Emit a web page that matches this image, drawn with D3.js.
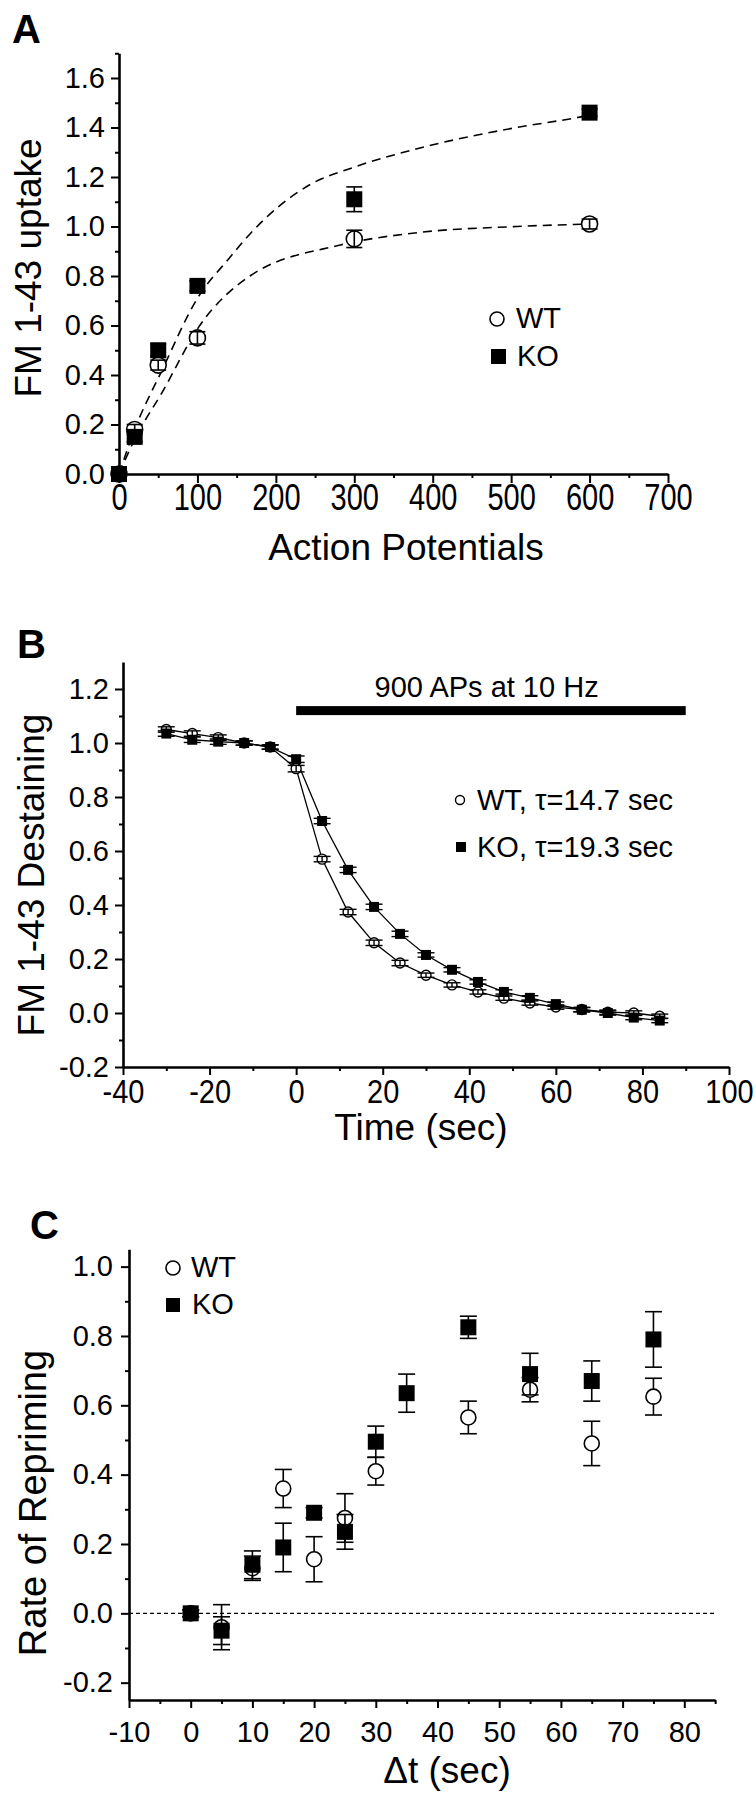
<!DOCTYPE html>
<html>
<head>
<meta charset="utf-8">
<script src="https://cdn.jsdelivr.net/npm/d3@7"></script>
<style>
  body { margin: 0; background: #fff; }
  svg { display: block; }
  text { font-family: "Liberation Sans", Arial, sans-serif; fill: #000; }
</style>
</head>
<body>
<svg id="fig" width="756" height="1800"></svg>
<script>
// ---- panel A : uptake vs number of action potentials ----
const apCounts = [0, 20, 50, 100, 300, 600];
const uptakeWT = [0, 0.18, 0.44, 0.55, 0.95, 1.01];
const uptakeWTErr = [0.01, 0.02, 0.02, 0.025, 0.035, 0.02];
const uptakeKO = [0, 0.15, 0.50, 0.76, 1.11, 1.46];
const uptakeKOErr = [0.01, 0.02, 0.025, 0.02, 0.05, 0.015];
// dashed fit curves
const fitKOx = [0, 20, 55, 100, 140, 167, 244, 300, 375, 507, 584, 600];
const fitKOy = [0, 0.18, 0.42, 0.71, 0.87, 0.97, 1.17, 1.24, 1.31, 1.40, 1.44, 1.45];
const fitWTx = [0, 20, 55, 103, 167, 282, 380, 507, 600];
const fitWTy = [0, 0.14, 0.33, 0.60, 0.80, 0.925, 0.975, 1.0, 1.01];
const apTicks = [0, 100, 200, 300, 400, 500, 600, 700];
const apMinor = [50, 150, 250, 350, 450, 550, 650];
const uptakeTicks = [0, 0.2, 0.4, 0.6, 0.8, 1.0, 1.2, 1.4, 1.6];

// ---- panel B : destaining time course ----
const timeSec = [-30, -24, -18, -12, -6, 0, 6, 12, 18, 24, 30, 36, 42, 48, 54, 60, 66, 72, 78, 84];
const destainWT = [1.05, 1.035, 1.02, 1.0, 0.985, 0.905, 0.57, 0.374, 0.26, 0.185, 0.14, 0.104, 0.078, 0.055, 0.037, 0.022, 0.013, 0.003, 0.0, -0.012];
const destainWTErr = [0.01, 0.01, 0.01, 0.008, 0.008, 0.012, 0.01, 0.01, 0.01, 0.01, 0.008, 0.008, 0.008, 0.008, 0.008, 0.008, 0.008, 0.008, 0.008, 0.008];
const destainKO = [1.035, 1.012, 1.005, 1.0, 0.985, 0.94, 0.711, 0.53, 0.393, 0.293, 0.215, 0.16, 0.115, 0.078, 0.056, 0.033, 0.012, 0.0, -0.017, -0.028];
const destainKOErr = [0.01, 0.01, 0.01, 0.008, 0.008, 0.012, 0.01, 0.01, 0.01, 0.01, 0.008, 0.008, 0.008, 0.008, 0.008, 0.008, 0.008, 0.008, 0.008, 0.008];
const stimWindow = [0, 90];
const stimLevel = 1.12;
const timeTicks = [-40, -20, 0, 20, 40, 60, 80, 100];
const timeMinor = [-30, -10, 10, 30, 50, 70, 90];
const destainTicks = [-0.2, 0, 0.2, 0.4, 0.6, 0.8, 1.0, 1.2];

// ---- panel C : repriming rate ----
const dtWT = [0, 5, 10, 15, 20, 25, 30, 45, 55, 65, 75];
const reprimeWT = [0, -0.04, 0.13, 0.36, 0.156, 0.275, 0.41, 0.565, 0.645, 0.49, 0.625];
const reprimeWTErr = [0.01, 0.065, 0.035, 0.055, 0.065, 0.07, 0.04, 0.047, 0.035, 0.064, 0.053];
const dtKO = [0, 5, 10, 15, 20, 25, 30, 35, 45, 55, 65, 75];
const reprimeKO = [0, -0.05, 0.14, 0.19, 0.29, 0.235, 0.495, 0.635, 0.825, 0.69, 0.67, 0.79];
const reprimeKOErr = [0.01, 0.04, 0.04, 0.07, 0.015, 0.05, 0.045, 0.055, 0.032, 0.06, 0.058, 0.08];
const dtTicks = [-10, 0, 10, 20, 30, 40, 50, 60, 70, 80];
const dtMinor = [-5, 5, 15, 25, 35, 45, 55, 65, 75, 85];
const reprimeTicks = [-0.2, 0, 0.2, 0.4, 0.6, 0.8, 1.0];

const svg = d3.select("#fig");
const tickFont = 29;
const titleFont = 37;

function minorVals(major) {
  const out = [];
  for (let i = 0; i < major.length - 1; i++) out.push(+((major[i] + major[i + 1]) / 2).toFixed(2));
  return out;
}

function drawAxes(x, y, o) {
  const y0 = y.range()[0], x0 = x.range()[0];
  const gx = svg.append("g").attr("transform", "translate(0," + y0 + ")");
  gx.call(d3.axisBottom(x).tickValues(o.xMinor).tickSize(4).tickSizeOuter(0).tickFormat(""));
  gx.select(".domain").remove();
  const gx2 = svg.append("g").attr("transform", "translate(0," + y0 + ")")
    .call(d3.axisBottom(x).tickValues(o.xTicks).tickSize(o.xTick).tickSizeOuter(0)
      .tickFormat(d => String(d)));
  gx2.attr("font-size", tickFont).attr("font-family", null);
  // x tick labels in the original are a little taller than normal type
  gx2.selectAll(".tick text")
    .attr("y", o.xLabelTop / o.xStretch)
    .attr("transform", "scale(1," + o.xStretch + ")");

  const gy = svg.append("g").attr("transform", "translate(" + x0 + ",0)");
  gy.call(d3.axisLeft(y).tickValues(o.yMinor).tickSize(4).tickSizeOuter(0).tickFormat(""));
  gy.select(".domain").remove();
  const gy2 = svg.append("g").attr("transform", "translate(" + x0 + ",0)")
    .call(d3.axisLeft(y).tickValues(o.yTicks).tickSize(8).tickSizeOuter(0)
      .tickPadding(o.yPad).tickFormat(d => d.toFixed(1)));
  gy2.attr("font-size", tickFont).attr("font-family", null);

  svg.selectAll(".domain").attr("stroke-width", 2.6);
  svg.selectAll(".tick line").attr("stroke-width", 2);
}

function errBars(xs, ys, es, x, y, capW, sw) {
  const g = svg.append("g").attr("stroke", "#000").attr("stroke-width", sw);
  xs.forEach((v, i) => {
    const cx = x(v), lo = y(ys[i] - es[i]), hi = y(ys[i] + es[i]);
    g.append("line").attr("x1", cx).attr("x2", cx).attr("y1", lo).attr("y2", hi);
    g.append("line").attr("x1", cx - capW / 2).attr("x2", cx + capW / 2).attr("y1", lo).attr("y2", lo);
    g.append("line").attr("x1", cx - capW / 2).attr("x2", cx + capW / 2).attr("y1", hi).attr("y2", hi);
  });
}

function circles(xs, ys, x, y, r, sw) {
  svg.append("g").selectAll("circle").data(xs).join("circle")
    .attr("cx", d => x(d)).attr("cy", (d, i) => y(ys[i])).attr("r", r)
    .attr("fill", "#fff").attr("stroke", "#000").attr("stroke-width", sw);
}

function squares(xs, ys, x, y, s) {
  svg.append("g").selectAll("rect").data(xs).join("rect")
    .attr("x", d => x(d) - s / 2).attr("y", (d, i) => y(ys[i]) - s / 2)
    .attr("width", s).attr("height", s).attr("fill", "#000");
}

function label(txt, x, y, size, opts) {
  const t = svg.append("text").attr("x", x).attr("y", y).attr("font-size", size).text(txt);
  if (opts && opts.anchor) t.attr("text-anchor", opts.anchor);
  if (opts && opts.bold) t.attr("font-weight", "bold");
  if (opts && opts.rotate) t.attr("transform", "rotate(-90," + x + "," + y + ")");
  return t;
}

// ================= A =================
const xA = d3.scaleLinear().domain([0, 700]).range([119, 668]);
const yA = d3.scaleLinear().domain([0, 1.7]).range([474, 474 - 1.7 * 247.5]);
drawAxes(xA, yA, { xTicks: apTicks, xMinor: apMinor, yTicks: uptakeTicks, yMinor: minorVals(uptakeTicks).concat([1.7]),
  xTick: 9, xLabelTop: 10, xStretch: 1.25, yPad: 6 });

const fitLine = d3.line().curve(d3.curveMonotoneX);
svg.append("path").attr("d", fitLine(fitKOx.map((v, i) => [xA(v), yA(fitKOy[i])])))
  .attr("fill", "none").attr("stroke", "#000").attr("stroke-width", 1.6).attr("stroke-dasharray", "9,6");
svg.append("path").attr("d", fitLine(fitWTx.map((v, i) => [xA(v), yA(fitWTy[i])])))
  .attr("fill", "none").attr("stroke", "#000").attr("stroke-width", 1.6).attr("stroke-dasharray", "9,6");

circles(apCounts, uptakeWT, xA, yA, 8, 1.6);
errBars(apCounts, uptakeWT, uptakeWTErr, xA, yA, 16, 1.6);
squares(apCounts, uptakeKO, xA, yA, 16);
errBars(apCounts, uptakeKO, uptakeKOErr, xA, yA, 16, 1.6);

label("A", 12, 43, 40, { bold: true });
label("Action Potentials", 406, 560, titleFont, { anchor: "middle" });
label("FM 1-43 uptake", 41, 268, titleFont, { anchor: "middle", rotate: true });

// legend A
svg.append("circle").attr("cx", 497).attr("cy", 319).attr("r", 7).attr("fill", "#fff").attr("stroke", "#000").attr("stroke-width", 1.6);
label("WT", 516, 328, 29);
svg.append("rect").attr("x", 491).attr("y", 349).attr("width", 15).attr("height", 15).attr("fill", "#000");
label("KO", 517, 366, 29);

// ================= B =================
const xB = d3.scaleLinear().domain([-40, 100]).range([123, 729]);
const yB = d3.scaleLinear().domain([-0.2, 1.3]).range([1067, 1067 - 1.5 * 270]);
drawAxes(xB, yB, { xTicks: timeTicks, xMinor: timeMinor, yTicks: destainTicks, yMinor: minorVals(destainTicks),
  xTick: 8, xLabelTop: 13, xStretch: 1.12, yPad: 6 });

const trace = d3.line().x(d => xB(d[0])).y(d => yB(d[1]));
svg.append("path").attr("d", trace(timeSec.map((t, i) => [t, destainWT[i]])))
  .attr("fill", "none").attr("stroke", "#000").attr("stroke-width", 1.3);
svg.append("path").attr("d", trace(timeSec.map((t, i) => [t, destainKO[i]])))
  .attr("fill", "none").attr("stroke", "#000").attr("stroke-width", 1.3);
circles(timeSec, destainWT, xB, yB, 5, 1.4);
errBars(timeSec, destainWT, destainWTErr, xB, yB, 17, 1.4);
squares(timeSec, destainKO, xB, yB, 10);
errBars(timeSec, destainKO, destainKOErr, xB, yB, 17, 1.4);

// stimulation bar
svg.append("rect").attr("x", xB(stimWindow[0])).attr("y", yB(stimLevel) - 4.5)
  .attr("width", xB(stimWindow[1]) - xB(stimWindow[0])).attr("height", 9).attr("fill", "#000");
label("900 APs at 10 Hz", xB(44), 697, 29, { anchor: "middle" });

label("B", 17, 658, 40, { bold: true });
label("Time (sec)", 421, 1140, titleFont, { anchor: "middle" });
label("FM 1-43 Destaining", 44, 875, titleFont, { anchor: "middle", rotate: true });

// legend B
svg.append("circle").attr("cx", 460).attr("cy", 800).attr("r", 4.5).attr("fill", "#fff").attr("stroke", "#000").attr("stroke-width", 1.4);
label("WT, \u03c4=14.7 sec", 477, 810, 29);
svg.append("rect").attr("x", 456).attr("y", 842).attr("width", 10).attr("height", 10).attr("fill", "#000");
label("KO, \u03c4=19.3 sec", 477, 857, 29);

// ================= C =================
const xC = d3.scaleLinear().domain([-10, 85]).range([129, 129 + 95 * 6.17]);
const yC = d3.scaleLinear().domain([-0.25, 1.05]).range([1700, 1700 - 1.3 * 346.7]);
drawAxes(xC, yC, { xTicks: dtTicks, xMinor: dtMinor, yTicks: reprimeTicks, yMinor: minorVals(reprimeTicks),
  xTick: 8, xLabelTop: 21, xStretch: 1.0, yPad: 8 });

svg.append("line").attr("x1", xC(-10)).attr("x2", xC(85)).attr("y1", yC(0)).attr("y2", yC(0))
  .attr("stroke", "#000").attr("stroke-width", 1.2).attr("stroke-dasharray", "4,3");

errBars(dtWT, reprimeWT, reprimeWTErr, xC, yC, 17, 1.6);
circles(dtWT, reprimeWT, xC, yC, 7.5, 1.6);
errBars(dtKO, reprimeKO, reprimeKOErr, xC, yC, 17, 1.6);
squares(dtKO, reprimeKO, xC, yC, 16);

label("C", 30, 1239, 40, { bold: true });
label("\u0394t (sec)", 447, 1783, titleFont, { anchor: "middle" });
label("Rate of Repriming", 46, 1503, 38, { anchor: "middle", rotate: true });

// legend C
svg.append("circle").attr("cx", 173).attr("cy", 1268).attr("r", 7).attr("fill", "#fff").attr("stroke", "#000").attr("stroke-width", 1.6);
label("WT", 191, 1277, 29);
svg.append("rect").attr("x", 166).attr("y", 1298).attr("width", 14).attr("height", 14).attr("fill", "#000");
label("KO", 192, 1314, 29);
</script>
</body>
</html>
